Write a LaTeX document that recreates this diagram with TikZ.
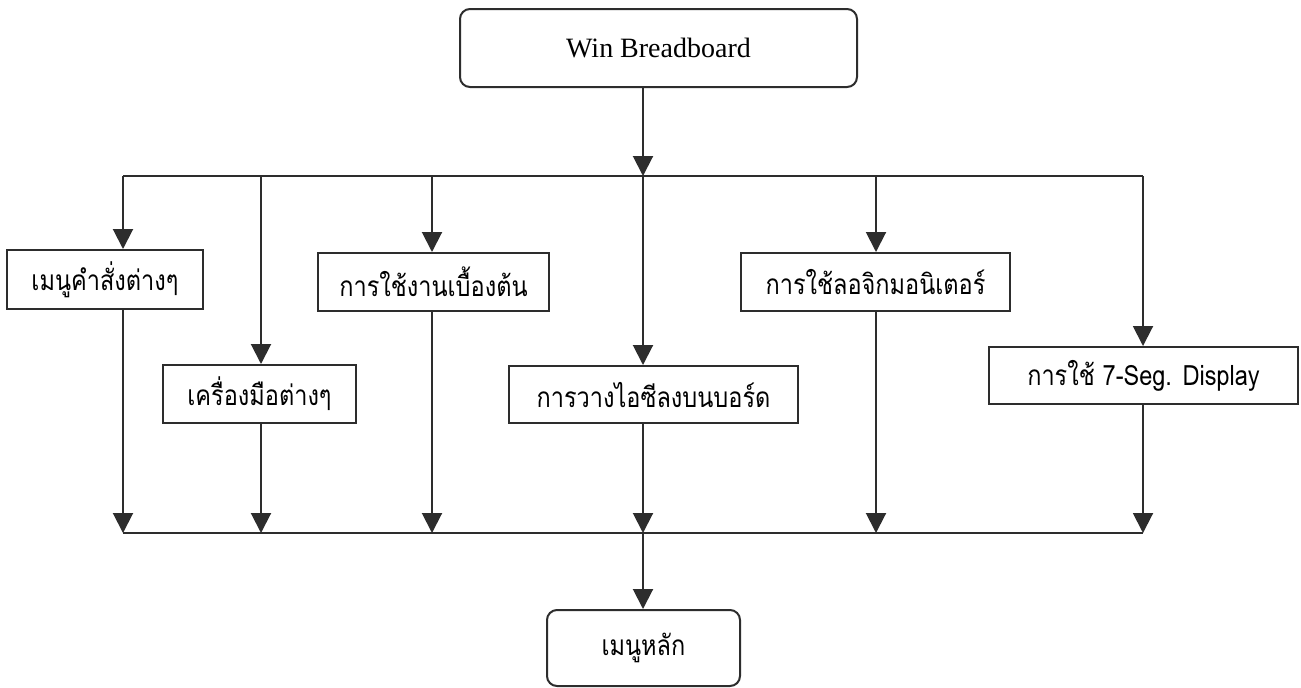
\documentclass[tikz,border=0pt]{standalone}
\usepackage{fontspec}
\setmainfont{Liberation Serif}
\newfontfamily\thaifont[Script=Thai, FakeStretch=0.84]{Loma}
\usetikzlibrary{arrows.meta, positioning}
\definecolor{lineink}{RGB}{45, 45, 45}

\begin{document}
\begin{tikzpicture}[x=0.5pt, y=-0.5pt,
  menubox/.style={draw=lineink, line width=1pt, inner sep=0pt, font=\thaifont\fontsize{14}{16}\selectfont},
  roundbox/.style={menubox, rounded corners=5pt},
  flow/.style={draw=lineink, line width=1pt, -{Triangle[width=10pt, length=10pt]}},
  bus/.style={draw=lineink, line width=1pt}
]
  \useasboundingbox[fill=white] (0,0) rectangle (1301,687);

  % Top and bottom boxes
  \node[roundbox, minimum width=198.5pt, minimum height=39pt, font=\fontsize{14}{16}\selectfont] (win) at (658.5,48) {Win Breadboard};
  \node[roundbox, minimum width=96.5pt, minimum height=38pt] (mainmenu) at (643.5,648) {เมนูหลัก};

  % Menu items
  \node[menubox, minimum width=98pt, minimum height=29.5pt] (m1) at (105,279.5) {เมนูคำสั่งต่างๆ};
  \node[menubox, minimum width=96.5pt, minimum height=29pt] (m2) at (259.5,394) {เครื่องมือต่างๆ};
  \node[menubox, minimum width=115.5pt, minimum height=29pt] (m3) at (433.5,282) {การใช้งานเบื้องต้น};
  \node[menubox, minimum width=144.5pt, minimum height=28.5pt] (m4) at (653.5,394.5) {การวางไอซีลงบนบอร์ด};
  \node[menubox, minimum width=134.5pt, minimum height=29pt] (m5) at (875.5,282) {การใช้ลอจิกมอนิเตอร์};
  \node[menubox, minimum width=154.5pt, minimum height=28.5pt] (m6) at (1143.5,375.5) {การใช้ 7-Seg. Display};

  % Bus points
  \coordinate (t1) at (123,176);
  \coordinate (t2) at (261,176);
  \coordinate (t3) at (432,176);
  \coordinate (t4) at (643,176);
  \coordinate (t5) at (876,176);
  \coordinate (t6) at (1143,176);
  \coordinate (b1) at (123,533);
  \coordinate (b2) at (261,533);
  \coordinate (b3) at (432,533);
  \coordinate (b4) at (643,533);
  \coordinate (b5) at (876,533);
  \coordinate (b6) at (1143,533);

  % Fan out
  \draw[flow] (win.south -| t4) -- (t4);
  \draw[bus] (t1) -- (t6);
  \foreach \i in {1,...,6}
    \draw[flow] (t\i) -- (t\i |- m\i.north);

  % Fan in
  \foreach \i in {1,...,6}
    \draw[flow] (m\i.south -| b\i) -- (b\i);
  \draw[bus] (b1) -- (b6);
  \draw[flow] (b4) -- (b4 |- mainmenu.north);
\end{tikzpicture}
\end{document}
